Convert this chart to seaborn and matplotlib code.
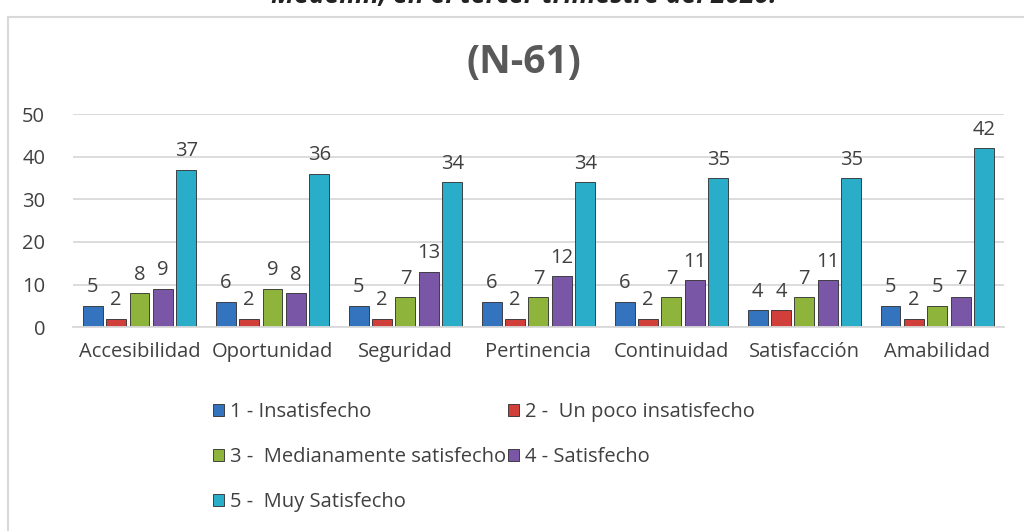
import pandas as pd
import numpy as np
import matplotlib.pyplot as plt
import seaborn as sns
from matplotlib.patches import Rectangle

# data
categorias = ['Accesibilidad', 'Oportunidad', 'Seguridad', 'Pertinencia',
              'Continuidad', 'Satisfacción', 'Amabilidad']
niveles = ['1 - Insatisfecho', '2 -  Un poco insatisfecho',
           '3 -  Medianamente satisfecho', '4 - Satisfecho', '5 -  Muy Satisfecho']
insatisfecho = [5, 6, 5, 6, 6, 4, 5]
poco_insatisfecho = [2, 2, 2, 2, 2, 4, 2]
medianamente = [8, 9, 7, 7, 7, 7, 5]
satisfecho = [9, 8, 13, 12, 11, 11, 7]
muy_satisfecho = [37, 36, 34, 34, 35, 35, 42]
colores = ['#3473BD', '#D13F3B', '#8FB43C', '#7A56A6', '#2AADC9']

series = [insatisfecho, poco_insatisfecho, medianamente, satisfecho, muy_satisfecho]
rows = []
for nivel, vals in zip(niveles, series):
    for cat, v in zip(categorias, vals):
        rows.append({'Categoria': cat, 'Nivel': nivel, 'Valor': v})
df = pd.DataFrame(rows)

sns.set_style("white")
plt.rcParams['font.family'] = ['Open Sans', 'DejaVu Sans']
texto = '#404040'
fs = 14.5

fig = plt.figure(figsize=(10.24, 5.31), dpi=100)
ax = fig.add_axes([0.0713, 0.384, 0.909, 0.401])

sns.barplot(data=df, x='Categoria', y='Valor', hue='Nivel', palette=colores,
            width=0.88, ax=ax, edgecolor='#2b2b2b', linewidth=0.6, saturation=1)

# narrow bars to leave small gaps inside each group
for p in ax.patches:
    w = p.get_width()
    nw = w * 0.85
    p.set_x(p.get_x() + (w - nw) / 2)
    p.set_width(nw)

for cont in ax.containers:
    ax.bar_label(cont, padding=6, fontsize=fs, color=texto)

ax.set_ylim(0, 50)
ax.set_yticks(range(0, 51, 10))
ax.set_xlim(-0.5, 6.5)
ax.yaxis.grid(True, color='#D9D9D9', linewidth=1.3)
ax.set_axisbelow(True)
for s in ['top', 'right', 'left']:
    ax.spines[s].set_visible(False)
ax.spines['bottom'].set_color('#D9D9D9')
ax.spines['bottom'].set_linewidth(1.3)
ax.tick_params(axis='both', length=0, labelsize=fs, colors=texto)
ax.tick_params(axis='x', pad=11)
ax.tick_params(axis='y', pad=20)
ax.set_xlabel('')
ax.set_ylabel('')

handles, labels = ax.get_legend_handles_labels()
ax.get_legend().remove()
orden = [0, 2, 4, 1, 3]
fig.legend([handles[i] for i in orden], [labels[i] for i in orden],
           ncol=2, loc='upper left', bbox_to_anchor=(0.2, 0.258),
           frameon=False, fontsize=fs, labelcolor=texto,
           handlelength=0.55, handleheight=0.55, handletextpad=0.3,
           labelspacing=1.25, columnspacing=0.1, borderaxespad=0)

fig.text(0.512, 0.882, '(N-61)', ha='center', va='center', fontsize=28,
         fontweight='bold', color='#595959')
# chart title above, cut off by the top edge as in the source image
fig.text(0.512, 1 - 3 / 531, 'Medellín, en el tercer trimestre del 2020.', ha='center',
         va='baseline', fontsize=19, fontweight='bold', fontstyle='italic', color='#222222')

fig.patches.append(Rectangle((8 / 1024, -0.1), 1.1, 1 - 17 / 531 + 0.1,
                             transform=fig.transFigure, fill=False,
                             edgecolor='#D9D9D9', linewidth=1.5))

plt.savefig('out.png', dpi=100)
plt.close()
